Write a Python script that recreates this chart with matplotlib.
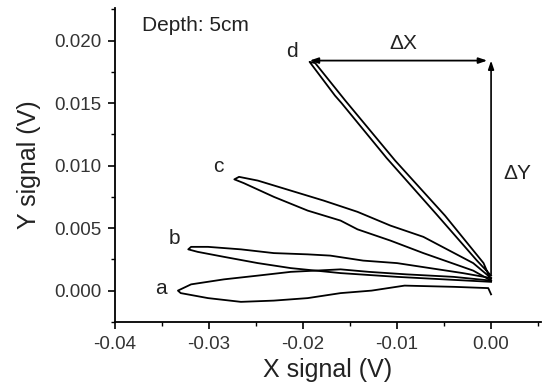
import matplotlib
matplotlib.use('Agg')
import matplotlib.pyplot as plt
from matplotlib.ticker import MultipleLocator

plt.rcParams['font.family'] = ['Liberation Sans', 'DejaVu Sans']

# loops, traced origin -> tip along the upper edge, then back along the lower edge
a_x = [0.0, -0.004, -0.009, -0.013, -0.016, -0.0213, -0.0248, -0.0284, -0.0319, -0.0333,
       -0.0330, -0.0301, -0.0266, -0.0231, -0.0195, -0.016, -0.0127, -0.0092, -0.0039, -0.0003, 0.0]
a_y = [0.0008, 0.0011, 0.0013, 0.0015, 0.0017, 0.0015, 0.0012, 0.0009, 0.0005, 0.0000,
       -0.0002, -0.0006, -0.0009, -0.0008, -0.0006, -0.0002, 0.0, 0.0004, 0.0003, 0.0002, -0.0003]

b_x = [0.0, -0.003, -0.0065, -0.010, -0.0136, -0.0171, -0.0195, -0.0231, -0.0266, -0.0301, -0.0319, -0.0322,
       -0.0312, -0.0284, -0.0248, -0.0213, -0.016, -0.010, -0.005, 0.0]
b_y = [0.0010, 0.0014, 0.0018, 0.0022, 0.0024, 0.0028, 0.0029, 0.0030, 0.0033, 0.0035, 0.0035, 0.0033,
       0.0031, 0.0027, 0.0022, 0.0018, 0.0014, 0.0011, 0.0009, 0.0007]

c_x = [0.0, -0.0019, -0.0072, -0.0107, -0.0142, -0.0178, -0.0213, -0.0248, -0.0268, -0.0273,
       -0.0263, -0.0231, -0.0195, -0.016, -0.0142, -0.0107, -0.0072, -0.0019, 0.0]
c_y = [0.0010, 0.0022, 0.0043, 0.0052, 0.0063, 0.0072, 0.0080, 0.0088, 0.0091, 0.0089,
       0.0086, 0.0075, 0.0064, 0.0056, 0.0049, 0.0040, 0.0030, 0.0016, 0.0008]

d_x = [0.0, -0.0015, -0.0058, -0.0111, -0.0159, -0.0166, -0.0190, -0.0193,
       -0.0187, -0.0155, -0.0102, -0.0049, -0.0008, 0.0]
d_y = [0.0012, 0.0024, 0.0061, 0.0106, 0.0150, 0.0156, 0.0180, 0.0183,
       0.0182, 0.0152, 0.0104, 0.0060, 0.0022, 0.0008]

loop_labels = ['a', 'b', 'c', 'd']
label_x = [-0.0351, -0.0337, -0.0290, -0.0212]
label_y = [0.0002, 0.0042, 0.0099, 0.0191]

dx_y = 0.0184      # level of the ΔX arrow
dy_bottom = 0.0013  # foot of the ΔY arrow

fig = plt.figure(figsize=(5.42, 3.85), dpi=100)
ax = fig.add_axes([0.212, 0.164, 0.786, 0.815])

for xs, ys in [(a_x, a_y), (b_x, b_y), (c_x, c_y), (d_x, d_y)]:
    ax.plot(xs, ys, color='black', lw=1.3, solid_joinstyle='round')

for t, x, y in zip(loop_labels, label_x, label_y):
    ax.text(x, y, t, fontsize=15, ha='center', va='center', color='#222222')

# ΔX / ΔY arrows
ax.annotate('', xy=(-0.0004, dx_y), xytext=(d_x[7], dx_y),
            arrowprops=dict(arrowstyle='<|-|>,head_length=0.5,head_width=0.17',
                            color='black', lw=1.3, shrinkA=0, shrinkB=0))
ax.annotate('', xy=(0.0, dx_y), xytext=(0.0, dy_bottom),
            arrowprops=dict(arrowstyle='-|>,head_length=0.5,head_width=0.17',
                            color='black', lw=1.2, shrinkA=0, shrinkB=0))
ax.text(-0.0093, 0.0198, 'ΔX', fontsize=15, ha='center', va='center', color='#222222')
ax.text(0.0028, 0.0094, 'ΔY', fontsize=15, ha='center', va='center', color='#222222')
ax.text(0.063, 0.975, 'Depth: 5cm', transform=ax.transAxes, fontsize=15,
        ha='left', va='top', color='#222222')

ax.set_xlim(-0.04, 0.0053)
ax.set_ylim(-0.0025, 0.0226)
ax.xaxis.set_major_locator(MultipleLocator(0.01))
ax.xaxis.set_minor_locator(MultipleLocator(0.005))
ax.yaxis.set_major_locator(MultipleLocator(0.005))
ax.yaxis.set_minor_locator(MultipleLocator(0.0025))
ax.xaxis.set_major_formatter(plt.FuncFormatter(lambda v, p: f"{v:.2f}".replace('-0.00', '0.00')))
ax.yaxis.set_major_formatter(plt.FuncFormatter(lambda v, p: f"{v:.3f}".replace('-0.000', '0.000')))

ax.tick_params(which='major', direction='out', length=5, width=1.2, labelsize=13.5,
               labelcolor='#333333', pad=5)
ax.tick_params(which='minor', direction='out', length=3, width=1.0)

for side in ['top', 'right']:
    ax.spines[side].set_visible(False)
for side in ['left', 'bottom']:
    ax.spines[side].set_linewidth(1.3)

ax.set_xlabel('X signal (V)', fontsize=18, color='#222222', labelpad=4)
ax.set_ylabel('Y signal (V)', fontsize=18, color='#222222', labelpad=9)

fig.savefig('out.png', dpi=100)
